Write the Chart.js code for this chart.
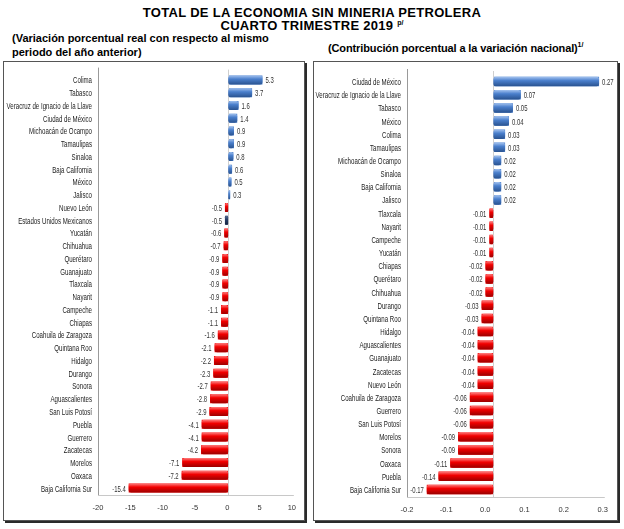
<!DOCTYPE html>
<html><head><meta charset="utf-8">
<script src="https://cdn.jsdelivr.net/npm/chart.js@4.4.1/dist/chart.umd.min.js"></script>
<style>
body{margin:0;background:#fff;width:624px;height:529px;position:relative;overflow:hidden;font-family:'Liberation Sans',Arial,sans-serif;}
.t{position:absolute;font-weight:bold;color:#000;white-space:nowrap;}
.box{position:absolute;border:1px solid #555;box-shadow:2px 2px 0 #2a2a2a;background:#fff;}
canvas{position:absolute;}
</style></head><body>
<div class="t" style="left:0;width:624px;text-align:center;top:5px;font-size:13px;letter-spacing:0.3px;">TOTAL DE LA ECONOMIA SIN MINERIA PETROLERA</div>
<div class="t" style="left:0;width:624px;text-align:center;top:18px;font-size:13px;letter-spacing:0.3px;">CUARTO TRIMESTRE 2019 <span style="font-size:7px;vertical-align:5px;letter-spacing:0;">p/</span></div>
<div class="t" style="left:12px;top:32px;font-size:11px;line-height:13.5px;">(Variación porcentual real con respecto al mismo<br>periodo del año anterior)</div>
<div class="t" style="left:328px;top:41px;font-size:11px;letter-spacing:-0.12px;">(Contribución porcentual a la variación nacional)<span style="font-size:7px;vertical-align:5px;">1/</span></div>
<div class="box" style="left:3px;top:61px;width:300px;height:458px;"></div>
<div class="box" style="left:313px;top:61px;width:303px;height:458px;"></div>
<canvas id="c1" width="301" height="459" style="left:4px;top:62px;width:301px;height:459px;"></canvas>
<canvas id="c2" width="303" height="459" style="left:314px;top:62px;width:303px;height:459px;"></canvas>
<script>
// ---- Data ----
const leftCategories = ["Colima","Tabasco","Veracruz de Ignacio de la Llave","Ciudad de México","Michoacán de Ocampo","Tamaulipas","Sinaloa","Baja California","México","Jalisco","Nuevo León","Estados Unidos Mexicanos","Yucatán","Chihuahua","Querétaro","Guanajuato","Tlaxcala","Nayarit","Campeche","Chiapas","Coahuila de Zaragoza","Quintana Roo","Hidalgo","Durango","Sonora","Aguascalientes","San Luis Potosí","Puebla","Guerrero","Zacatecas","Morelos","Oaxaca","Baja California Sur"];
const leftValues = [5.3,3.7,1.6,1.4,0.9,0.9,0.8,0.6,0.5,0.3,-0.5,-0.5,-0.6,-0.7,-0.9,-0.9,-0.9,-0.9,-1.1,-1.1,-1.6,-2.1,-2.2,-2.3,-2.7,-2.8,-2.9,-4.1,-4.1,-4.2,-7.1,-7.2,-15.4];
const leftTicks = [-20,-15,-10,-5,0,5,10];
const nationalCategory = "Estados Unidos Mexicanos";

const rightCategories = ["Ciudad de México","Veracruz de Ignacio de la Llave","Tabasco","México","Colima","Tamaulipas","Michoacán de Ocampo","Sinaloa","Baja California","Jalisco","Tlaxcala","Nayarit","Campeche","Yucatán","Chiapas","Querétaro","Chihuahua","Durango","Quintana Roo","Hidalgo","Aguascalientes","Guanajuato","Zacatecas","Nuevo León","Coahuila de Zaragoza","Guerrero","San Luis Potosí","Morelos","Sonora","Oaxaca","Puebla","Baja California Sur"];
const rightValues = [0.27,0.07,0.05,0.04,0.03,0.03,0.02,0.02,0.02,0.02,-0.01,-0.01,-0.01,-0.01,-0.02,-0.02,-0.02,-0.03,-0.03,-0.04,-0.04,-0.04,-0.04,-0.04,-0.06,-0.06,-0.06,-0.09,-0.09,-0.11,-0.14,-0.17];
const rightTicks = [-0.2,-0.1,0.0,0.1,0.2,0.3];

// ---- Styles ----
const FONT = "'Liberation Sans',Arial,sans-serif";
const BLUE = ['#a3c2ef','#4a7fcc','#29528f'];
const RED  = ['#ff8080','#f20000','#9a0000'];
const NAVY = ['#5a6f95','#263d66','#14213d'];

function barColors(label, v){
  if (label === nationalCategory) return NAVY;
  return v >= 0 ? BLUE : RED;
}

function squeezedText(ctx, txt, x, y, sx, align){
  ctx.save();
  ctx.translate(x, y);
  ctx.scale(sx, 1);
  ctx.textAlign = align;
  ctx.fillText(txt, 0, 0);
  ctx.restore();
}

const barStyle = {
  id:'barStyle',
  afterDatasetsDraw(chart, args, opts){
    const ctx = chart.ctx, meta = chart.getDatasetMeta(0), ds = chart.data.datasets[0];
    const ca = chart.chartArea, xs = chart.scales.x, ys = chart.scales.y;
    ctx.save();
    // zero line
    const zx = Math.round(xs.getPixelForValue(0)) + 0.5;
    ctx.strokeStyle = '#cfcfcf'; ctx.lineWidth = 1;
    ctx.beginPath(); ctx.moveTo(zx, ca.top - 4); ctx.lineTo(zx, ca.bottom + 1); ctx.stroke();
    meta.data.forEach((bar,i)=>{
      const v = ds.data[i];
      const c = barColors(chart.data.labels[i], v);
      const top = bar.y - bar.height/2, h = bar.height;
      const x0 = Math.min(bar.x, bar.base), w = Math.abs(bar.x - bar.base);
      const g = ctx.createLinearGradient(0, top, 0, top+h);
      g.addColorStop(0, c[0]); g.addColorStop(0.4, c[1]); g.addColorStop(1, c[2]);
      ctx.fillStyle = g;
      ctx.beginPath();
      const r = Math.min(2.5, w/2);
      ctx.roundRect(x0, top, w, h, r);
      ctx.fill();
    });
    // value labels
    ctx.font = "9px " + FONT; ctx.fillStyle = '#333'; ctx.textBaseline = 'middle';
    meta.data.forEach((bar,i)=>{
      const v = ds.data[i];
      const txt = v.toFixed(opts.dec);
      if (v >= 0) squeezedText(ctx, txt, bar.x + 3, bar.y + 1, 0.66, 'left');
      else squeezedText(ctx, txt, bar.x - 3, bar.y + 1, 0.66, 'right');
    });
    // category labels
    ctx.fillStyle = '#222';
    chart.data.labels.forEach((lab,i)=>{
      squeezedText(ctx, lab, ca.left - 6, ys.getPixelForTick(i) + 1, 0.68, 'right');
    });
    // axis lines
    ctx.strokeStyle = '#9a9a9a'; ctx.lineWidth = 1;
    ctx.beginPath();
    ctx.moveTo(Math.round(ca.left)+0.5, ca.top - 6);
    ctx.lineTo(Math.round(ca.left)+0.5, ca.bottom + 1);
    ctx.stroke();
    ctx.strokeStyle = '#c8c8c8';
    ctx.beginPath();
    ctx.moveTo(ca.left, Math.round(ca.bottom)+1.5);
    ctx.lineTo(ca.right + 2, Math.round(ca.bottom)+1.5);
    ctx.stroke();
    ctx.restore();
  }
};

// off: 3D wall offset of the tick labels relative to the data (in data units)
function makeChart(id, labels, values, ticks, dec, yWidth, pad, off){
  const tdec = dec === 2 ? 1 : 0;
  new Chart(document.getElementById(id), {
    type:'bar',
    data:{ labels, datasets:[{ data: values,
      backgroundColor: values.map((v,i)=>barColors(labels[i], v)[1]),
      borderWidth:0, categoryPercentage:1, barPercentage:0.72 }] },
    options:{
      indexAxis:'y', responsive:false, animation:false,
      layout:{ padding: pad },
      plugins:{ legend:{display:false}, tooltip:{enabled:false}, barStyle:{dec} },
      scales:{
        x:{ min: ticks[0] - off, max: ticks[ticks.length-1] - off,
            afterBuildTicks: s => { s.ticks = ticks.map(v=>({value:v - off})); },
            afterFit: s => { s.height = 20; },
            grid:{ display:false, drawTicks:false },
            border:{ display:false },
            ticks:{ padding:9, color:'#333', font:{family:FONT, size:7.5}, maxRotation:0,
                    callback: v => (Number(v) + off).toFixed(tdec).replace(/^-0(\.0)?$/, '0$1') } },
        y:{ afterFit: s => { s.width = yWidth; },
            grid:{ display:false, drawTicks:false }, border:{ display:false },
            ticks:{ display:false, autoSkip:false } }
      }
    },
    plugins:[barStyle]
  });
}

makeChart('c1', leftCategories, leftValues, leftTicks, 1, 94, {top:11.6, bottom:6.6, right:12, left:0}, 0.15);
makeChart('c2', rightCategories, rightValues, rightTicks, 2, 93, {top:13, bottom:5, right:14, left:0}, 0.0205);
</script>
</body></html>
